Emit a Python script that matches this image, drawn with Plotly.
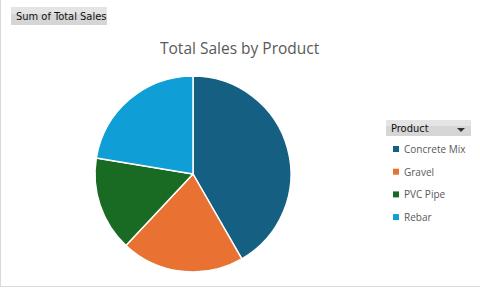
import plotly.graph_objects as go

products = ["Concrete Mix", "Gravel", "PVC Pipe", "Rebar"]
total_sales = [41.7, 20.3, 15.6, 22.4]
colors = ["#156082", "#E97132", "#196B24", "#0F9ED5"]
title_text = "Total Sales by Product"
field_button = "Sum of Total Sales"
legend_button = "Product"

W, H = 480, 288
cx, cy, r = 193, 174, 98

fig = go.Figure()
fig.add_trace(go.Pie(
    labels=products, values=total_sales, sort=False, direction="clockwise",
    rotation=0, textinfo="none", hoverinfo="label+value+percent",
    marker=dict(colors=colors, line=dict(color="white", width=1.5)),
    domain=dict(x=[(cx - r) / W, (cx + r) / W], y=[(H - cy - r) / H, (H - cy + r) / H]),
    showlegend=False,
))

def px(x):
    return x / W

def py(y):
    return 1 - y / H

shapes = [
    # chart border (left and bottom)
    dict(type="line", xref="paper", yref="paper", x0=px(0.5), x1=px(0.5), y0=py(0), y1=py(286.5),
         line=dict(color="#d9d9d9", width=1)),
    dict(type="line", xref="paper", yref="paper", x0=px(0), x1=px(480), y0=py(286.5), y1=py(286.5),
         line=dict(color="#d9d9d9", width=1)),
    # field buttons (two-tone to suggest gradient)
    dict(type="rect", xref="paper", yref="paper", x0=px(11), x1=px(107), y0=py(25), y1=py(7),
         line=dict(width=0), fillcolor="#d6d6d6"),
    dict(type="rect", xref="paper", yref="paper", x0=px(11), x1=px(107), y0=py(14), y1=py(7),
         line=dict(width=0), fillcolor="#e4e4e4"),
    dict(type="rect", xref="paper", yref="paper", x0=px(386), x1=px(471), y0=py(136), y1=py(120),
         line=dict(width=0), fillcolor="#d6d6d6"),
    dict(type="rect", xref="paper", yref="paper", x0=px(386), x1=px(471), y0=py(126), y1=py(120),
         line=dict(width=0), fillcolor="#e4e4e4"),
    # dropdown arrow
    dict(type="path", xref="paper", yref="paper",
         path=f"M {px(457)},{py(128)} L {px(465)},{py(128)} L {px(461)},{py(132)} Z",
         line=dict(width=0), fillcolor="#333333"),
]

annotations = [
    dict(text=title_text, x=0.5, y=py(48), xref="paper", yref="paper", showarrow=False,
         xanchor="center", yanchor="middle",
         font=dict(family="Open Sans, sans-serif", size=15.5, color="#595959")),
    dict(text=field_button, x=px(14), y=py(16), xref="paper", yref="paper", showarrow=False,
         xanchor="left", yanchor="middle",
         font=dict(family="DejaVu Sans Condensed, DejaVu Sans", size=11, color="#111111")),
    dict(text=legend_button, x=px(389), y=py(128), xref="paper", yref="paper", showarrow=False,
         xanchor="left", yanchor="middle",
         font=dict(family="DejaVu Sans Condensed, DejaVu Sans", size=11, color="#111111")),
]

legend_y0, legend_dy = 149, 22.7
for i, (name, col) in enumerate(zip(products, colors)):
    y = legend_y0 + i * legend_dy
    shapes.append(dict(type="rect", xref="paper", yref="paper", x0=px(393), x1=px(399),
                       y0=py(y + 3), y1=py(y - 3), line=dict(width=0), fillcolor=col))
    annotations.append(dict(text=name, x=px(402), y=py(y), xref="paper", yref="paper",
                            showarrow=False, xanchor="left", yanchor="middle",
                            font=dict(family="Open Sans, sans-serif", size=10, color="#595959")))

fig.update_layout(
    width=W, height=H, margin=dict(l=0, r=0, t=0, b=0),
    paper_bgcolor="white", plot_bgcolor="white",
    shapes=shapes, annotations=annotations, showlegend=False,
)

fig.write_html("out.html")
